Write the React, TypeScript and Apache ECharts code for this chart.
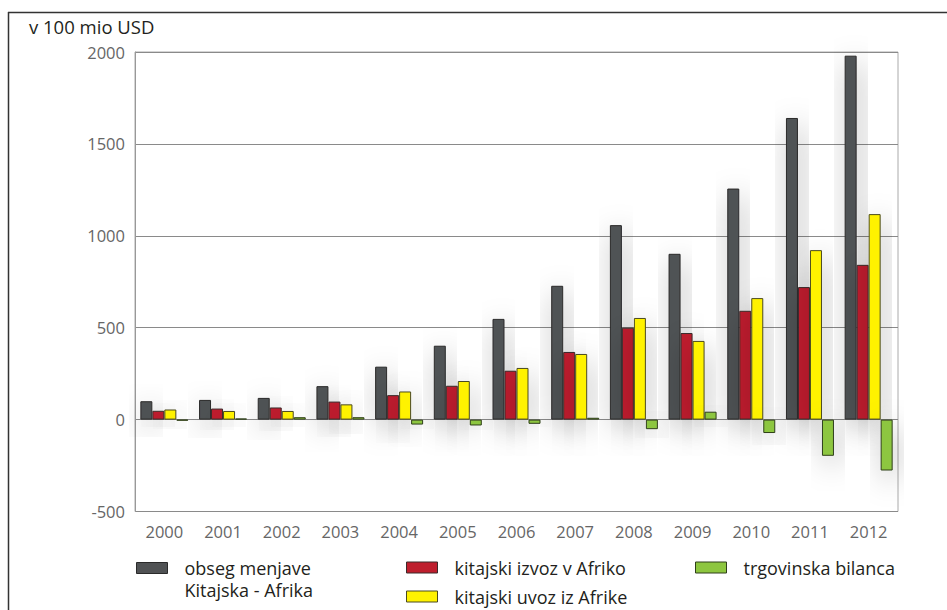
import React, { useEffect, useRef } from "react";
import * as echarts from "echarts";

const years = ["2000", "2001", "2002", "2003", "2004", "2005", "2006", "2007", "2008", "2009", "2010", "2011", "2012"];
const obseg = [100, 107, 118, 182, 288, 402, 548, 728, 1058, 902, 1257, 1641, 1980];
const izvoz = [48, 60, 66, 98, 133, 184, 266, 368, 500, 471, 592, 721, 842];
const uvoz = [55, 47, 47, 83, 153, 210, 281, 357, 553, 428, 661, 922, 1118];
const bilanca = [-6, 6, 13, 13, -27, -32, -23, 10, -52, 43, -73, -197, -277];
const seriesNames = [
  "obseg menjave\nKitajska - Afrika",
  "kitajski izvoz v Afriko",
  "kitajski uvoz iz Afrike",
  "trgovinska bilanca",
];
const unitLabel = "v 100 mio USD";

const FONT = "'Open Sans', 'Noto Sans', sans-serif";

export default function App() {
  const ref = useRef<HTMLDivElement>(null);
  useEffect(() => {
    if (!ref.current) return;
    const chart = echarts.init(ref.current, undefined, { renderer: "svg" });
    const colors = ["#505254", "#be1e2d", "#fff200", "#8dc63f"];
    const borders = ["#2a2a2a", "#3a2a2a", "#4a4a20", "#2f3f1a"];
    const datas = [obseg, izvoz, uvoz, bilanca];
    const legendText = {
      fontSize: 18,
      color: "#231f20",
      fontFamily: FONT,
      lineHeight: 22,
      padding: [0, 0, 0, 12],
    };
    const legendBase = {
      padding: 0,
      itemWidth: 31,
      itemHeight: 11,
      itemGap: 16,
      icon: "rect",
      textStyle: legendText,
      itemStyle: { shadowBlur: 0, shadowOffsetX: 0, shadowOffsetY: 0, borderWidth: 1 },
    };
    chart.setOption({
      animation: false,
      textStyle: { fontFamily: FONT },
      title: {
        text: unitLabel,
        left: 29,
        top: 17,
        padding: 0,
        textStyle: { fontSize: 18.5, fontWeight: "normal", color: "#231f20", fontFamily: FONT },
      },
      grid: {
        left: 135,
        right: 49,
        top: 52,
        bottom: 98.5,
        show: true,
        borderColor: "#aaaaaa",
        borderWidth: 1,
        backgroundColor: "transparent",
      },
      legend: [
        {
          ...legendBase,
          data: [seriesNames[0]],
          formatter: (name: string) => " \n" + name,
          left: 136,
          top: 535,
        },
        { ...legendBase, data: [seriesNames[1]], left: 406, top: 556.5 },
        { ...legendBase, data: [seriesNames[2]], left: 406, top: 585.5 },
        { ...legendBase, data: [seriesNames[3]], left: 695, top: 556.5 },
      ],
      xAxis: {
        type: "category",
        data: years,
        axisLine: { show: false, onZero: false },
        axisTick: { show: false },
        axisLabel: { color: "#666666", fontSize: 16.5, margin: 11, fontFamily: FONT },
        splitLine: { show: false },
      },
      yAxis: {
        type: "value",
        min: -500,
        max: 2000,
        interval: 500,
        axisLine: { show: true, lineStyle: { color: "#999999", width: 1 } },
        axisTick: { show: false },
        axisLabel: {
          color: "#666666",
          fontSize: 16.5,
          margin: 10,
          fontFamily: FONT,
          formatter: (v: number) => String(v),
        },
        splitLine: { show: true, lineStyle: { color: "#8a8a8a", width: 1 } },
      },
      graphic: [
        {
          type: "line",
          shape: { x1: 8.5, y1: 12, x2: 8.5, y2: 620 },
          style: { stroke: "#333333", lineWidth: 1.5 },
          silent: true,
        },
        {
          type: "line",
          shape: { x1: 8, y1: 12.5, x2: 960, y2: 12.5 },
          style: { stroke: "#333333", lineWidth: 1.5 },
          silent: true,
        },
      ],
      series: datas.map((d, i) => ({
        name: seriesNames[i],
        type: "bar",
        data: d,
        barWidth: 12,
        barGap: "0%",
        itemStyle: {
          color: colors[i],
          borderColor: borders[i],
          borderWidth: 1,
          shadowBlur: 30,
          shadowColor: "rgba(0,0,0,0.32)",
          shadowOffsetX: 4,
          shadowOffsetY: 8,
        },
      })),
    });
    return () => chart.dispose();
  }, []);
  return (
    <div
      ref={ref}
      style={{ position: "fixed", left: 0, top: 0, width: 947, height: 610, background: "#ffffff" }}
    />
  );
}
